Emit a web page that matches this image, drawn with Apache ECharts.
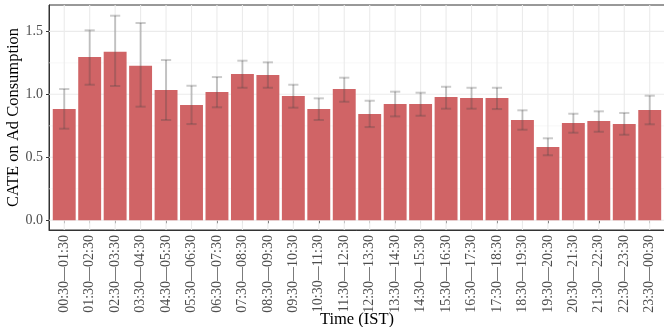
<!DOCTYPE html>
<html><head><meta charset="utf-8">
<script src="https://cdn.jsdelivr.net/npm/echarts@6/dist/echarts.min.js"></script>
<style>html,body{margin:0;padding:0;background:#fff}#c{width:664px;height:327px}</style>
</head><body><div id="c"></div>
<script>
const categories = ["00:30—01:30","01:30—02:30","02:30—03:30","03:30—04:30","04:30—05:30","05:30—06:30","06:30—07:30","07:30—08:30","08:30—09:30","09:30—10:30","10:30—11:30","11:30—12:30","12:30—13:30","13:30—14:30","14:30—15:30","15:30—16:30","16:30—17:30","17:30—18:30","18:30—19:30","19:30—20:30","20:30—21:30","21:30—22:30","22:30—23:30","23:30—00:30"];
const cate  = [0.883,1.296,1.337,1.226,1.034,0.915,1.018,1.161,1.153,0.987,0.883,1.042,0.844,0.923,0.923,0.979,0.971,0.971,0.796,0.582,0.772,0.788,0.764,0.875];
const upper = [1.042,1.508,1.624,1.566,1.272,1.068,1.137,1.267,1.254,1.076,0.968,1.132,0.949,1.021,1.013,1.060,1.052,1.052,0.873,0.651,0.846,0.865,0.852,0.989];
const lower = [0.727,1.076,1.066,0.902,0.796,0.764,0.897,1.052,1.052,0.894,0.796,0.941,0.740,0.825,0.830,0.886,0.886,0.883,0.719,0.516,0.695,0.703,0.679,0.762];
const majorY = [0, 0.5, 1.0, 1.5];
const minorY = [0.25, 0.75, 1.25];
const yMin = -0.077, yMax = 1.709;

const font = "'Liberation Serif','Times New Roman',serif";
const chart = echarts.init(document.getElementById('c'), null, {renderer:'canvas'});
const hData = majorY.map(v => [v, 1]).concat(minorY.map(v => [v, 0]));

chart.setOption({
  animation:false,
  backgroundColor:'#ffffff',
  grid:[
    {left:49, right:-1, top:5, bottom:97, show:true, borderColor:'#333', borderWidth:1, backgroundColor:'transparent', z:0, containLabel:false, outerBoundsMode:'none'},
    {left:51.5, right:1.55, top:5, bottom:97, containLabel:false, outerBoundsMode:'none'}
  ],
  xAxis:[
    {type:'value', gridIndex:0, min:0, max:1, axisLabel:{show:false}, axisTick:{show:false}, splitLine:{show:false},
     axisLine:{show:true, onZero:false, lineStyle:{color:'#333', width:1}},
     name:'Time (IST)', nameLocation:'middle', nameGap:81, nameMoveOverlap:false, nameTextStyle:{fontFamily:font, fontSize:16.5, color:'#000'}},
    {type:'category', gridIndex:1, data:categories, boundaryGap:true,
     axisLine:{show:false},
     axisTick:{show:true, alignWithLabel:true, length:3, lineStyle:{color:'#333'}},
     axisLabel:{rotate:90, interval:0, margin:5, fontFamily:font, fontSize:14, color:'#4D4D4D'},
     splitLine:{show:false}}
  ],
  yAxis:[
    {type:'value', gridIndex:0, min:yMin, max:yMax,
     axisLine:{show:true, onZero:false, lineStyle:{color:'#333', width:1}},
     axisTick:{show:true, length:3, lineStyle:{color:'#333'}, customValues:majorY},
     axisLabel:{fontFamily:font, fontSize:14, color:'#4D4D4D', margin:6, customValues:majorY, formatter:v=>v.toFixed(1)},
     splitLine:{show:false},
     name:'CATE on Ad Consumption', nameLocation:'middle', nameGap:27, nameRotate:90, nameMoveOverlap:false,
     nameTextStyle:{fontFamily:font, fontSize:16.5, color:'#000'}},
    {type:'value', gridIndex:1, min:yMin, max:yMax, show:false, splitLine:{show:false}}
  ],
  series:[
    {type:'custom', xAxisIndex:0, yAxisIndex:0, z:1, silent:true,
     data: hData,
     renderItem:(params, api)=>{
       const y = api.coord([0, api.value(0)])[1];
       const cs = params.coordSys;
       const major = api.value(1) === 1;
       return {type:'line', shape:{x1:cs.x, y1:y, x2:cs.x+cs.width, y2:y},
               style:{stroke: major ? '#EBEBEB' : '#F3F3F3', lineWidth: major ? 1.1 : 0.6}};
     }},
    {type:'custom', xAxisIndex:1, yAxisIndex:1, z:1, silent:true,
     data: categories.map((c,i)=>[i]),
     renderItem:(params, api)=>{
       const x = api.coord([api.value(0), 0])[0];
       const cs = params.coordSys;
       return {type:'line', shape:{x1:x, y1:cs.y, x2:x, y2:cs.y+cs.height}, style:{stroke:'#EBEBEB', lineWidth:1.1}};
     }},
    {type:'bar', xAxisIndex:1, yAxisIndex:1, data:cate, barCategoryGap:'10%', z:2,
     itemStyle:{color:'#D06466'}},
    {type:'custom', xAxisIndex:1, yAxisIndex:1, z:3, silent:true,
     data: categories.map((c,i)=>[i, lower[i], upper[i]]),
     renderItem:(params, api)=>{
       const lo = api.coord([api.value(0), api.value(1)]);
       const hi = api.coord([api.value(0), api.value(2)]);
       const w = api.size([1,0])[0]*0.4/2;
       const st = {stroke:'rgba(70,70,70,0.28)', lineWidth:2};
       return {type:'group', children:[
         {type:'line', shape:{x1:lo[0], y1:lo[1], x2:hi[0], y2:hi[1]}, style:st},
         {type:'line', shape:{x1:lo[0]-w, y1:lo[1], x2:lo[0]+w, y2:lo[1]}, style:st},
         {type:'line', shape:{x1:hi[0]-w, y1:hi[1], x2:hi[0]+w, y2:hi[1]}, style:st}
       ]};
     }}
  ]
});
</script></body></html>
